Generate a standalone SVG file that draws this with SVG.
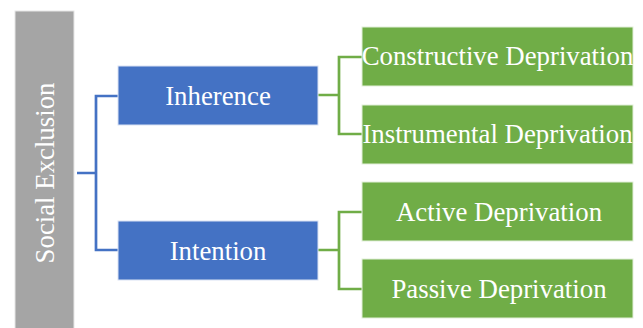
<svg xmlns="http://www.w3.org/2000/svg" width="643" height="328" viewBox="0 0 643 328">
<style>
text{font-family:"Liberation Serif","Times New Roman",serif;font-size:26.8px;fill:#fff;text-anchor:middle}
.root{fill:#A5A5A5;stroke:#e6e6e6;stroke-width:1}
.mid{fill:#4472C4;stroke:#d9e2f3;stroke-width:1}
.leaf{fill:#70AD47;stroke:#e2efd9;stroke-width:1}
.cb{fill:none;stroke:#4472C4;stroke-width:2.7}
.cg{fill:none;stroke:#70AD47;stroke-width:2.7}
</style>
<rect width="643" height="328" fill="#fff"/>
<g id="connectors">
<path class="cb" d="M77 173H96M118 96H96V250H118"/>
<path class="cg" d="M318 95H339M362 57H339V134H362"/>
<path class="cg" d="M318 250H339M362 212H339V289H362"/>
</g>
<g id="social-exclusion">
<rect class="root" x="15" y="11" width="59" height="325"/>
<text transform="translate(53.5 173) rotate(-90)">Social Exclusion</text>
</g>
<g id="inherence">
<rect class="mid" x="118" y="66" width="200" height="59"/>
<text x="218" y="105">Inherence</text>
</g>
<g id="intention">
<rect class="mid" x="118" y="221" width="200" height="59"/>
<text x="218" y="260">Intention</text>
</g>
<g id="constructive">
<rect class="leaf" x="362" y="27" width="271" height="59"/>
<text x="497.5" y="65">Constructive Deprivation</text>
</g>
<g id="instrumental">
<rect class="leaf" x="362" y="105" width="271" height="59"/>
<text x="497.5" y="143">Instrumental Deprivation</text>
</g>
<g id="active">
<rect class="leaf" x="362" y="182" width="271" height="59"/>
<text x="499" y="221">Active Deprivation</text>
</g>
<g id="passive">
<rect class="leaf" x="362" y="259" width="271" height="59"/>
<text x="499" y="298">Passive Deprivation</text>
</g>
</svg>
